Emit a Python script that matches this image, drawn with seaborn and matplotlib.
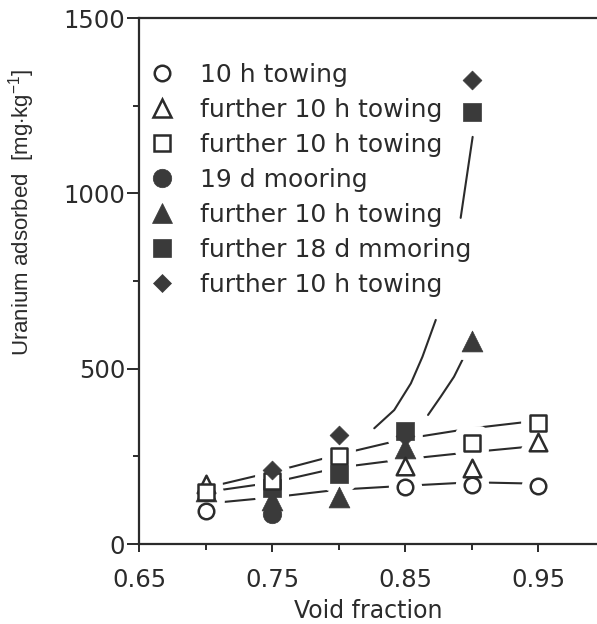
import matplotlib
matplotlib.use("Agg")
import matplotlib.pyplot as plt
from matplotlib.lines import Line2D
from matplotlib.ticker import FixedLocator
import seaborn as sns

# ---- measured uranium uptake [mg/kg] versus void fraction ----
open_circle_x = [0.70, 0.85, 0.90, 0.95]
open_circle_y = [94, 162, 167, 166]

open_triangle_x = [0.70, 0.85, 0.90, 0.95]
open_triangle_y = [171, 223, 216, 292]

open_square_x = [0.70, 0.75, 0.80, 0.90, 0.95]
open_square_y = [147, 180, 251, 288, 346]

filled_circle_x = [0.75]
filled_circle_y = [86]

filled_triangle_x = [0.70, 0.75, 0.80, 0.85, 0.90]
filled_triangle_y = [150, 125, 135, 275, 580]

filled_square_x = [0.75, 0.80, 0.85, 0.90]
filled_square_y = [160, 200, 322, 1232]

filled_diamond_x = [0.75, 0.80, 0.85, 0.90]
filled_diamond_y = [211, 311, 308, 1322]

# ---- hand-drawn trend curves ----
trend_x = [0.70, 0.75, 0.80, 0.85, 0.90, 0.95]
circle_trend = [115, 133, 155, 166, 176, 172]
triangle_trend = [148, 175, 218, 242, 262, 280]
square_trend = [160, 205, 255, 300, 330, 352]

steep_a_x = [0.8267, 0.8417, 0.8542, 0.8629, 0.8729]
steep_a_y = [330, 382, 458, 534, 639]
steep_b_x = [0.8916, 0.9006]
steep_b_y = [930, 1161]
steep_c_x = [0.8671, 0.8766, 0.8866, 0.8929]
steep_c_y = [368, 420, 477, 525]

labels = ["10 h towing", "further 10 h towing", "further 10 h towing",
          "19 d mooring", "further 10 h towing", "further 18 d mmoring",
          "further 10 h towing"]

x_ticks_major = [0.65, 0.75, 0.85, 0.95]
x_ticks_minor = [0.70, 0.80, 0.90]
y_ticks_major = [0, 500, 1000, 1500]
y_ticks_minor = [250, 750, 1250]

INK = "#2b2b2b"
FILL = "#3a3a3a"

sns.set_style("ticks")
plt.rcParams["font.family"] = ["DejaVu Sans"]
plt.rcParams["mathtext.fontset"] = "custom"
plt.rcParams["mathtext.rm"] = "Liberation Sans"
plt.rcParams["mathtext.it"] = "Liberation Sans:italic"
plt.rcParams["text.color"] = INK
plt.rcParams["axes.labelcolor"] = INK
plt.rcParams["xtick.color"] = INK
plt.rcParams["ytick.color"] = INK

fig = plt.figure(figsize=(5.97, 6.24), dpi=100)
ax = fig.add_axes([139 / 597, 80 / 624, 458 / 597, 526 / 624])

# trend lines
for ys in (circle_trend, triangle_trend, square_trend):
    sns.lineplot(x=trend_x, y=ys, ax=ax, color=INK, lw=1.5,
                 estimator=None, sort=False, legend=False, zorder=1)
for xs, ys in ((steep_a_x, steep_a_y), (steep_b_x, steep_b_y),
               (steep_c_x, steep_c_y)):
    sns.lineplot(x=xs, y=ys, ax=ax, color=INK, lw=1.5,
                 estimator=None, sort=False, legend=False, zorder=1)

# marker styles: (x, y, marker, size, face, edge, edge width, zorder)
series = [
    (filled_circle_x, filled_circle_y, "o", 177, FILL, FILL, 0.5, 3),
    (filled_triangle_x, filled_triangle_y, "^", 225, FILL, FILL, 0.5, 4),
    (filled_square_x, filled_square_y, "s", 177, FILL, FILL, 0.5, 5),
    (open_circle_x, open_circle_y, "o", 125, "white", INK, 1.8, 6),
    (open_triangle_x, open_triangle_y, "^", 160, "white", INK, 1.8, 7),
    (open_square_x, open_square_y, "s", 132, "white", INK, 1.8, 8),
    (filled_diamond_x, filled_diamond_y, "D", 92, FILL, FILL, 0.5, 9),
]

# white halos so the trend lines stop short of the symbols
for xs, ys, m, s, fc, ec, lw, z in series:
    sns.scatterplot(x=xs, y=ys, ax=ax, marker=m, s=s, color="white",
                    edgecolor="white", linewidth=lw + 11, legend=False, zorder=2)
for xs, ys, m, s, fc, ec, lw, z in series:
    sns.scatterplot(x=xs, y=ys, ax=ax, marker=m, s=s, color=fc,
                    edgecolor=ec, linewidth=lw, legend=False, zorder=z)

legend_order = [3, 4, 5, 0, 1, 2, 6]
handles = []
for i in legend_order:
    xs, ys, m, s, fc, ec, lw, z = series[i]
    handles.append(Line2D([], [], ls="none", marker=m, ms=s ** 0.5,
                          mfc=fc, mec=ec, mew=lw))
ax.legend(handles, labels, loc="upper left", bbox_to_anchor=(0.024, 0.914),
          frameon=False, fontsize=18, handlelength=1.0, handletextpad=1.0,
          labelspacing=0.44, borderpad=0, borderaxespad=0, labelcolor=INK)

ax.set_xlim(0.65, 0.994)
ax.set_ylim(0, 1500)
ax.xaxis.set_major_locator(FixedLocator(x_ticks_major))
ax.xaxis.set_minor_locator(FixedLocator(x_ticks_minor))
ax.yaxis.set_major_locator(FixedLocator(y_ticks_major))
ax.yaxis.set_minor_locator(FixedLocator(y_ticks_minor))
ax.set_xticklabels([f"{v:.2f}" for v in x_ticks_major])
ax.set_yticklabels([str(v) for v in y_ticks_major])

ax.tick_params(axis="x", which="major", direction="out", length=6, width=1.4,
               pad=11, labelsize=17.5)
ax.tick_params(axis="x", which="minor", direction="out", length=4, width=1.4)
ax.tick_params(axis="y", which="major", direction="out", length=9, width=1.4,
               pad=1, labelsize=17.5)
ax.tick_params(axis="y", which="minor", direction="out", length=4.5, width=1.4)

for side in ("left", "bottom", "top"):
    ax.spines[side].set_linewidth(1.6)
    ax.spines[side].set_color(INK)
ax.spines["right"].set_visible(False)

ax.set_xlabel("Void fraction", fontsize=17, labelpad=5)
ax.set_ylabel(r"Uranium adsorbed  [mg$\cdot$kg$^{-1}$]", fontsize=16,
              fontfamily="Liberation Sans")
ax.yaxis.set_label_coords(-0.222, 0.63)

fig.savefig("out.png", dpi=100)
